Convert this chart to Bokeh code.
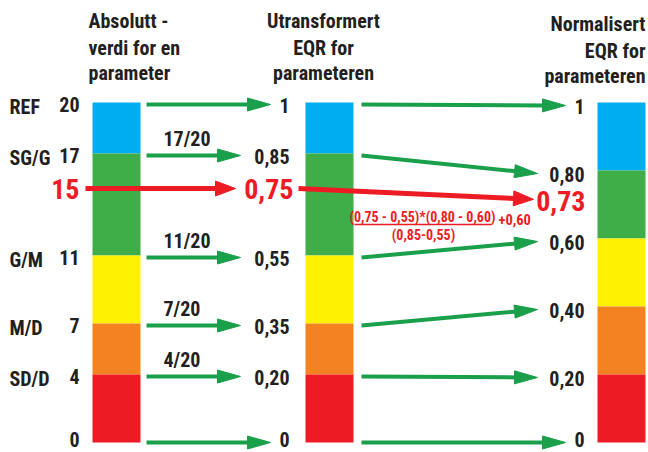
import math
from bokeh.plotting import figure
from bokeh.models import Range1d
from bokeh.core.properties import value
from bokeh.embed import file_html
from bokeh.resources import INLINE

# ---------------- data ----------------
class_names = ["REF", "SG/G", "G/M", "M/D", "SD/D", ""]
abs_levels = [20, 17, 11, 7, 4, 0]
raw_eqr = [1, 0.85, 0.55, 0.35, 0.20, 0]
norm_eqr = [1, 0.80, 0.60, 0.40, 0.20, 0]
class_colors = ["#00aeef", "#3fae49", "#fff200", "#f58220", "#ed1c24"]
max_abs = 20
example_abs = 15
example_raw = 0.75
example_norm = 0.73
header_abs = ["Absolutt -", "verdi for en", "parameter"]
header_raw = ["Utransformert", "EQR for", "parameteren"]
header_norm = ["Normalisert", "EQR for", "parameteren"]

# ---------------- layout / style ----------------
FONT = value("Roboto Condensed")
BLACK = "#231f20"
RED = "#ed1c24"
GREEN = "#1a9f4a"
Y0 = 442.0          # pixel row of value 0
PX = 1.0 / 340.0    # value units per pixel


def vy(row):
    return (Y0 - row) * PX


def fmt(v):
    if v in (0, 1):
        return str(int(v))
    return f"{v:.2f}".replace(".", ",")


def offs(vals, off):
    # keep the bottom row of labels inside the picture
    return [off if v > 0 else -3 for v in vals]


p = figure(width=648, height=452, x_range=Range1d(0, 648),
           y_range=Range1d(vy(452), vy(0)), x_axis_type=None, y_axis_type=None,
           toolbar_location=None, output_backend="svg", min_border=0)
p.grid.visible = False
p.outline_line_color = None
p.background_fill_color = "white"

# ---------------- bars ----------------
bar_x = [(92, 140), (305, 353), (597, 645)]
cols = [[a / max_abs for a in abs_levels], raw_eqr, norm_eqr]
for (l, r), lev in zip(bar_x, cols):
    p.quad(left=[l] * 5, right=[r] * 5, top=lev[:-1], bottom=lev[1:],
           fill_color=class_colors, line_color=None)

# ---------------- arrows ----------------
arrows = {GREEN: ([], [], [], []), RED: ([], [], [], [])}


def arrow(x0, v0, x1, v1, color, off0=0.0, off1=0.0, hl=23, hw=13):
    y0 = Y0 - v0 / PX + off0
    y1 = Y0 - v1 / PX + off1
    dx, dy = x1 - x0, y1 - y0
    L = math.hypot(dx, dy)
    ux, uy = dx / L, dy / L
    bx, by = x1 - ux * (hl - 2), y1 - uy * (hl - 2)
    hx, hy = x1 - ux * hl, y1 - uy * hl
    nx, ny = -uy, ux
    lx, ly, tx, ty = arrows[color]
    lx.append([x0, bx])
    ly.append([vy(y0), vy(by)])
    tx.append([x1, hx + nx * hw / 2, hx - nx * hw / 2])
    ty.append([vy(y1), vy(hy + ny * hw / 2), vy(hy - ny * hw / 2)])


for a, r, n in zip(abs_levels, raw_eqr, norm_eqr):
    wide = r in (0, 1)
    o = 2 if r > 0 else 0
    arrow(146, a / max_abs, 270 if wide else 240, r, GREEN, o, o)
    arrow(361, r, 565 if wide else 537, n, GREEN, o, o + (1 if n > 0 else 0))

arrow(85, example_abs / max_abs, 235, example_raw, RED, 1, 1, hl=20, hw=15)
arrow(298, example_raw, 533, example_norm, RED, 1, 5, hl=20, hw=15)

for color, (lx, ly, tx, ty) in arrows.items():
    lw = 5 if color == RED else 4
    p.multi_line(lx, ly, line_color=color, line_width=lw, line_cap="butt")
    p.patches(tx, ty, fill_color=color, line_color=color, line_width=1)

# ---------------- texts ----------------
common = dict(text_font=FONT, text_font_style="bold", text_baseline="middle")

lev1 = [a / max_abs for a in abs_levels]
p.text(x=[9] * 6, y=lev1, text=class_names, text_font_size="20px",
       text_color=BLACK, text_align="left", y_offset=offs(lev1, 4), **common)
p.text(x=[79] * 6, y=lev1, text=[str(a) for a in abs_levels], text_font_size="20px",
       text_color=BLACK, text_align="right", y_offset=offs(lev1, 2), **common)
p.text(x=[289] * 6, y=raw_eqr, text=[fmt(v) for v in raw_eqr], text_font_size="20px",
       text_color=BLACK, text_align="right", y_offset=offs(raw_eqr, 3), **common)
p.text(x=[584] * 6, y=norm_eqr, text=[fmt(v) for v in norm_eqr], text_font_size="20px",
       text_color=BLACK, text_align="right", y_offset=offs(norm_eqr, 4), **common)

frac_a = [a for a in abs_levels if 0 < a < max_abs]
p.text(x=[163] * len(frac_a), y=[a / max_abs for a in frac_a],
       text=[f"{a}/{max_abs}" for a in frac_a], text_font_size="20px",
       text_color=BLACK, text_align="left", y_offset=-15, **common)

# example values (red)
p.text(x=[79], y=[example_abs / max_abs], text=[str(example_abs)], text_font_size="28px",
       text_color=RED, text_align="right", y_offset=1, **common)
p.text(x=[293], y=[example_raw], text=[fmt(example_raw)], text_font_size="28px",
       text_color=RED, text_align="right", y_offset=1, **common)
p.text(x=[585], y=[example_norm], text=[fmt(example_norm)], text_font_size="28px",
       text_color=RED, text_align="right", y_offset=7, **common)

# formula
lo_r, hi_r = raw_eqr[2], raw_eqr[1]
lo_n, hi_n = norm_eqr[2], norm_eqr[1]
num = f"({fmt(example_raw)} - {fmt(lo_r)})*({fmt(hi_n)} - {fmt(lo_n)})"
den = f"({fmt(hi_r)}-{fmt(lo_r)})"
p.text(x=[422], y=[example_raw], text=[num], text_font_size="14px",
       text_color=RED, text_align="center", y_offset=29, **common)
p.text(x=[423], y=[example_raw], text=[den], text_font_size="14px",
       text_color=RED, text_align="center", y_offset=47, **common)
p.text(x=[498], y=[example_raw], text=[f"+{fmt(lo_n)}"], text_font_size="14.5px",
       text_color=RED, text_align="left", y_offset=32, **common)
p.segment(x0=[354], x1=[491], y0=[vy(224)], y1=[vy(224)], line_color=RED, line_width=1.5)

# headers
hy = [20, 47, 72]
p.text(x=[88] * 3, y=[vy(h) for h in hy], text=header_abs, text_font_size="20px",
       text_color=BLACK, text_align="left", **common)
p.text(x=[323] * 3, y=[vy(h) for h in hy], text=header_raw, text_font_size="20px",
       text_color=BLACK, text_align="center", **common)
p.text(x=[645] * 3, y=[vy(h + 3) for h in hy], text=header_norm, text_font_size="20px",
       text_color=BLACK, text_align="right", **common)

open("out.html", "w").write(file_html(p, INLINE))
